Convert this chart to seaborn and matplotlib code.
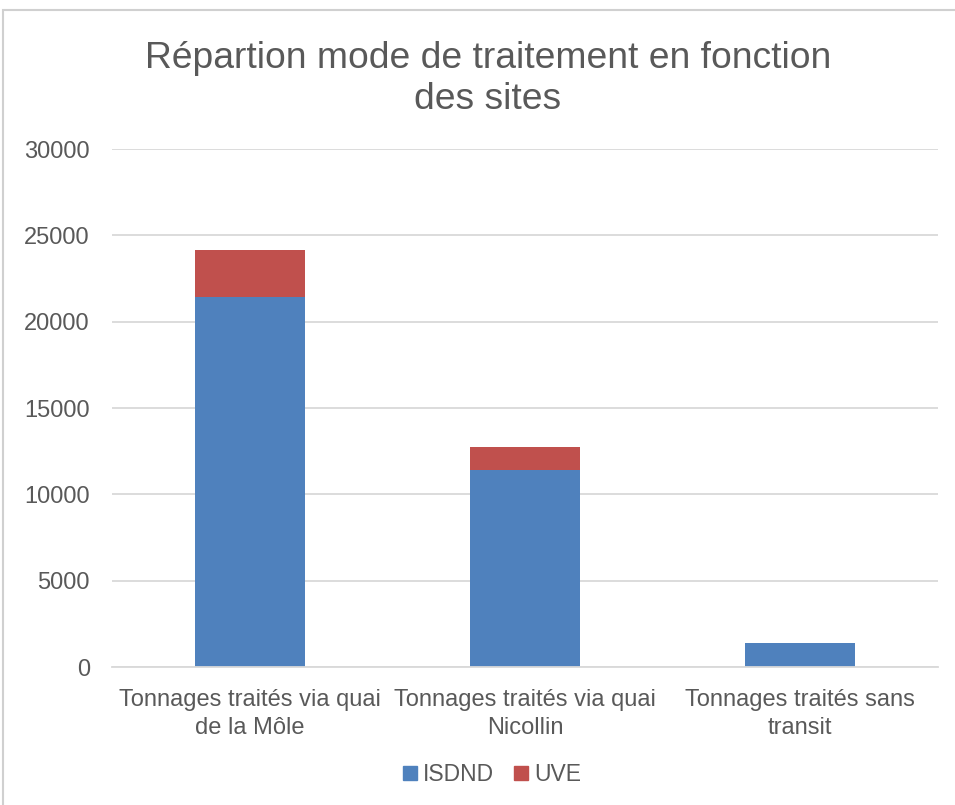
import matplotlib
matplotlib.use("Agg")
import matplotlib.pyplot as plt
from matplotlib.patches import Rectangle
import seaborn as sns
import pandas as pd

categories = [
    "Tonnages traités via quai\nde la Môle",
    "Tonnages traités via quai\nNicollin",
    "Tonnages traités sans\ntransit",
]
isdnd = [21450, 11400, 1420]
uve = [2700, 1350, 0]
y_ticks = [0, 5000, 10000, 15000, 20000, 25000, 30000]

BLUE = "#4F81BD"
RED = "#C0504D"
TEXT = "#595959"
GRID = "#D9D9D9"

sns.set_theme(style="white")
plt.rcParams["font.family"] = ["Liberation Sans", "DejaVu Sans"]

df = pd.DataFrame({
    "site": categories,
    "ISDND": isdnd,
    "UVE": uve,
})
df["total"] = df["ISDND"] + df["UVE"]

fig = plt.figure(figsize=(9.55, 8.05), dpi=100)
ax = fig.add_axes([0.1173, 0.1714, 0.8649, 0.6435])

# stacked bars: full height in UVE colour, ISDND drawn over it
sns.barplot(data=df, x="site", y="total", color=RED, saturation=1,
            width=0.4, ax=ax, order=categories, linewidth=0)
sns.barplot(data=df, x="site", y="ISDND", color=BLUE, saturation=1,
            width=0.4, ax=ax, order=categories, linewidth=0)

ax.set_xlim(-0.5, 2.5)
ax.set_ylim(0, 30000)
ax.set_yticks(y_ticks)
ax.set_yticklabels([str(v) for v in y_ticks])
ax.set_xlabel("")
ax.set_ylabel("")
ax.yaxis.grid(True, color=GRID, linewidth=1.3)
ax.set_axisbelow(True)
for side in ["top", "right", "left"]:
    ax.spines[side].set_visible(False)
ax.spines["bottom"].set_color(GRID)
ax.spines["bottom"].set_linewidth(1.3)
ax.tick_params(axis="y", length=0, pad=16, labelsize=17, labelcolor=TEXT)
ax.tick_params(axis="x", length=0, pad=15.5, labelsize=17, labelcolor=TEXT)
for lbl in ax.get_xticklabels():
    lbl.set_linespacing(1.35)

fig.text(0.511, 0.927, "Répartion mode de traitement en fonction", ha="center",
         va="center", fontsize=26.8, color=TEXT)
fig.text(0.511, 0.876, "des sites", ha="center", va="center",
         fontsize=26.8, color=TEXT)

handles = [
    plt.Line2D([], [], marker="s", linestyle="", markersize=9.5,
               markerfacecolor=BLUE, markeredgecolor=BLUE, label="ISDND"),
    plt.Line2D([], [], marker="s", linestyle="", markersize=9.5,
               markerfacecolor=RED, markeredgecolor=RED, label="UVE"),
]
fig.legend(handles=handles, loc="center", bbox_to_anchor=(0.513, 0.038),
           ncol=2, frameon=False, fontsize=16.5, handletextpad=0.05,
           handlelength=1.0, columnspacing=0.7, labelcolor=TEXT)

# chart frame
fig.patches.append(Rectangle((3 / 955, -0.01), 1.1, 1 - 10 / 805 + 0.01,
                             transform=fig.transFigure, fill=False,
                             edgecolor="#D0D0D0", linewidth=1.5))

fig.savefig("out.png", dpi=100, facecolor="white")
